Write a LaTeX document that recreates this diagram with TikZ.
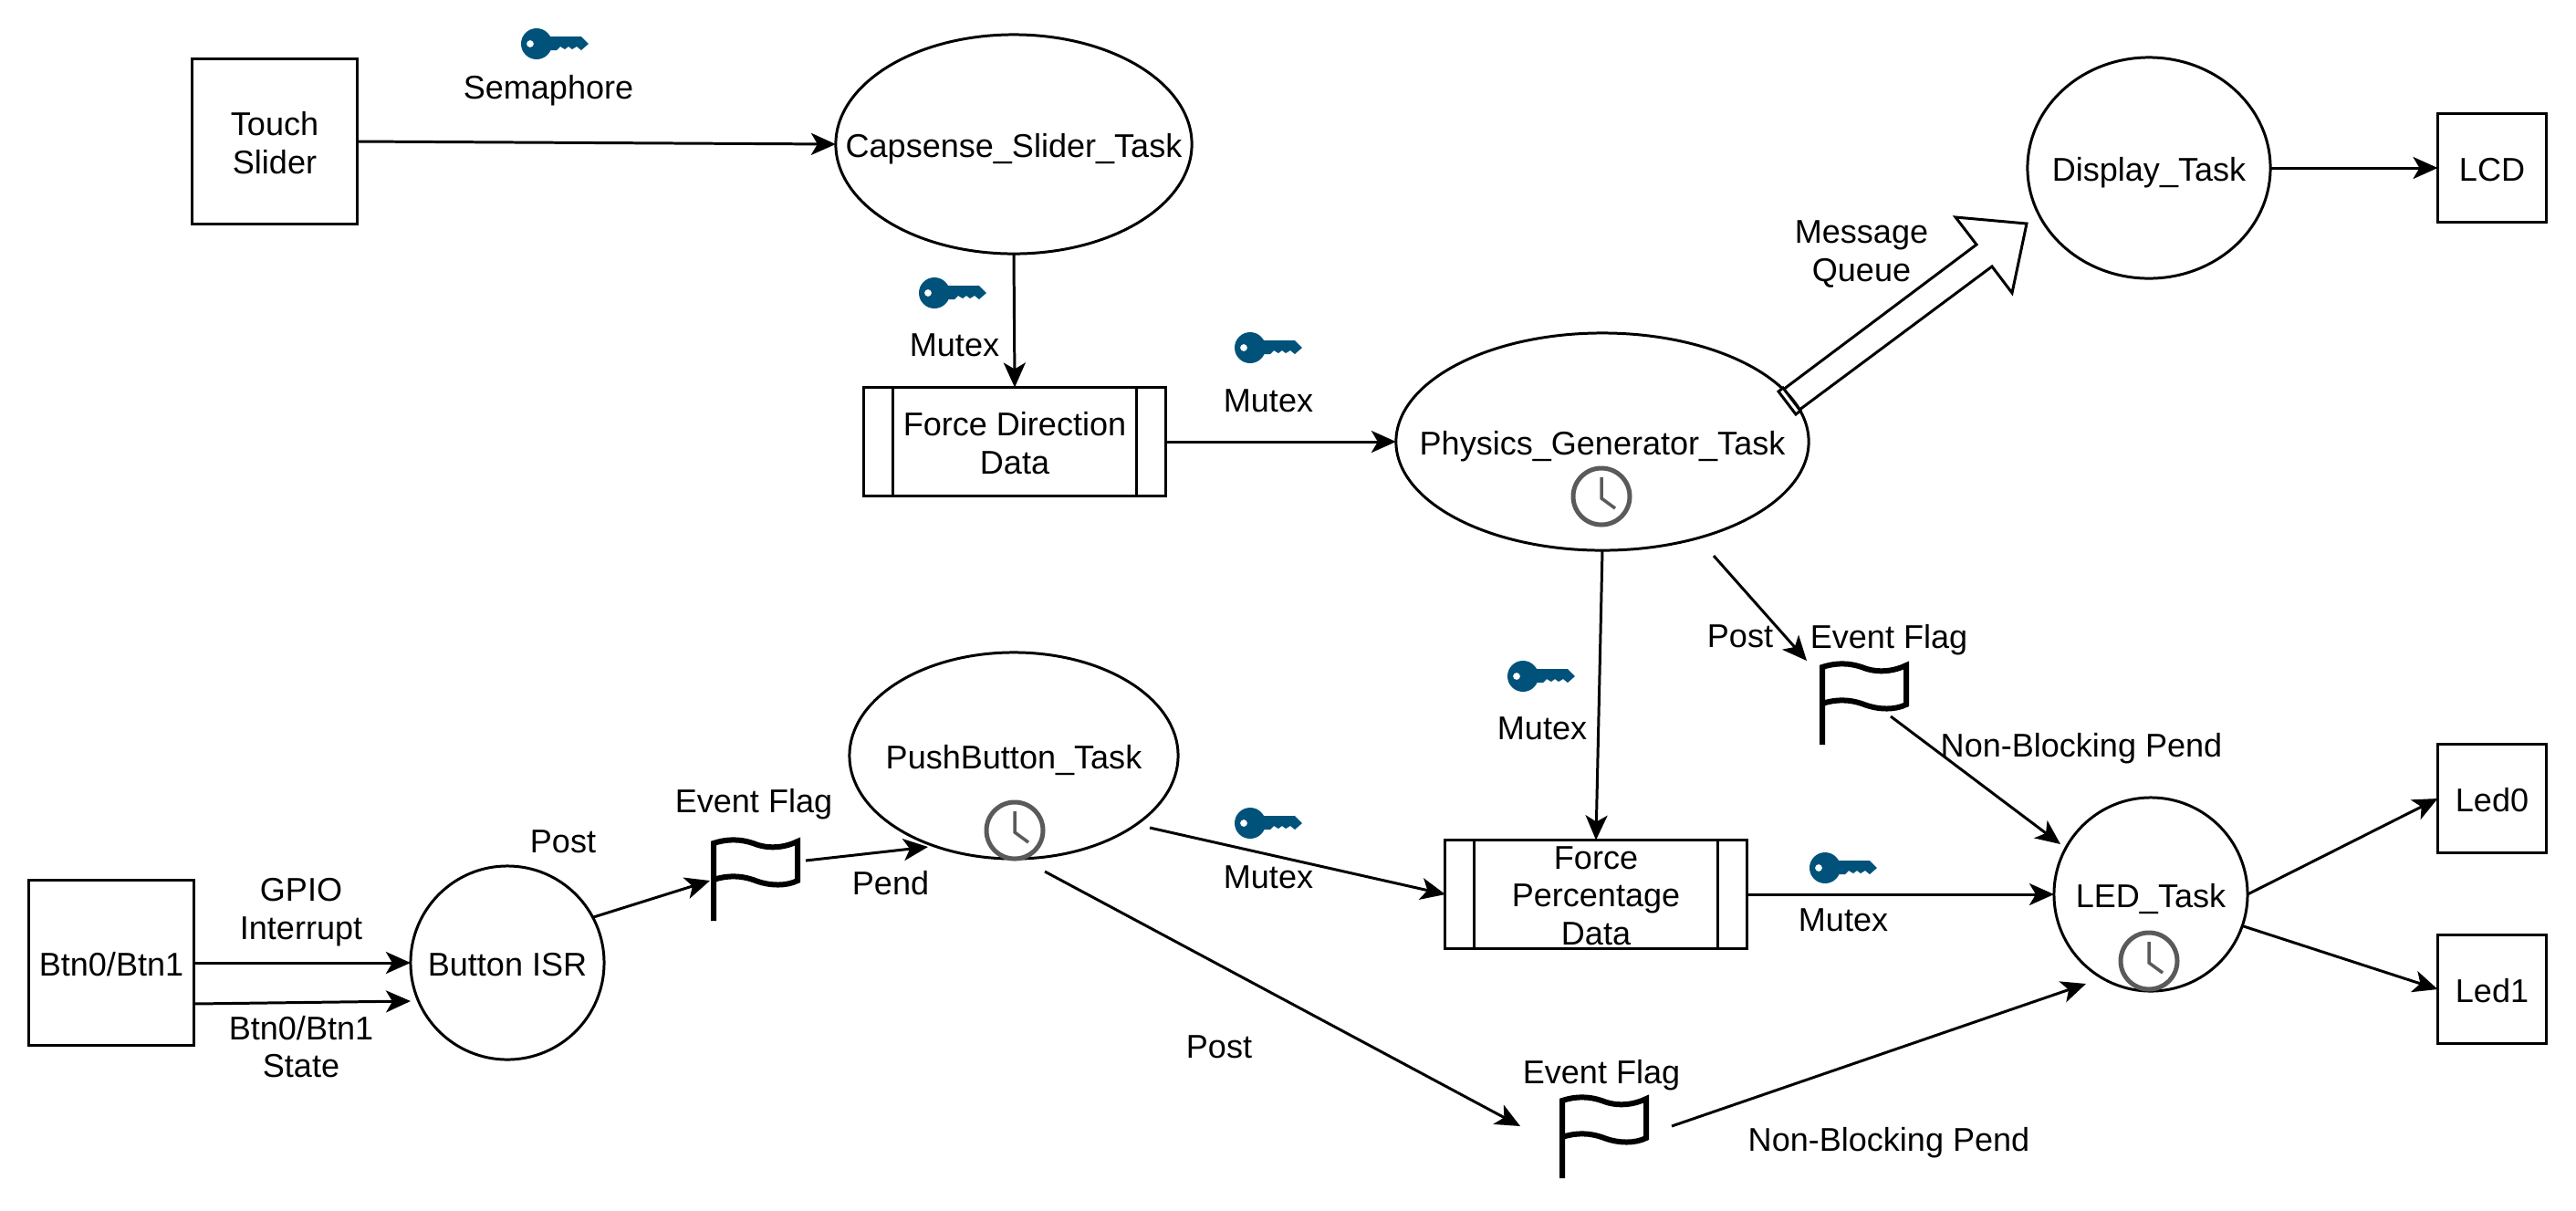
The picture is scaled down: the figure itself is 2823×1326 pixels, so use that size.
\documentclass[tikz,border=0pt]{standalone}
\usepackage{fontspec}
\setmainfont{Liberation Sans}
\usepackage{xcolor}
\definecolor{keyblue}{RGB}{0,82,122}
\definecolor{clockgray}{RGB}{90,90,90}
\usetikzlibrary{arrows.meta, shapes.geometric}

\begin{document}
\begin{tikzpicture}[x=0.01cm, y=-0.01cm,
		>={Stealth[length=0.27cm, width=0.24cm, inset=0.07cm]},
		font=\fontsize{10.25}{11.8}\selectfont, line width=0.85pt,
		lbl/.style={align=center, inner sep=0pt, text depth=0pt},
		txt/.style={label={[lbl, yshift=-0.015cm]center:#1}},
		box/.style={draw, rectangle, inner sep=0pt, outer sep=0pt},
		task/.style={draw, ellipse, inner sep=0pt, outer sep=0pt},
		datastore/.style={box, minimum width=3.3cm, minimum height=1.19cm},
		keyicon/.pic={
			\fill[keyblue, even odd rule] (0,0) circle (17) (-7,0) circle (4);
			\fill[keyblue] (12,-8) -- (49,-8) -- (57,0) -- (49,7) -- (44,3) -- (39,6) -- (35,3) -- (31,6) -- (26,3) -- (22,7) -- (12,7) -- cycle;
		},
		flagicon/.pic={
			\draw[line width=0.06cm] (0,87) -- (0,2) .. controls (15,-3) and (30,-3) .. (46,3) .. controls (62,9) and (80,6) .. (92,0) -- (92,43) .. controls (80,49) and (62,49) .. (46,43) .. controls (30,37) and (15,37) .. (0,42);
		},
		clockicon/.pic={
			\draw[clockgray, line width=0.05cm] (0,0) circle (31);
			\draw[clockgray, line width=0.035cm] (0,-21) -- (0,2) -- (15,13);
		}]
	\useasboundingbox (0,0) rectangle (2823,1326);
	% Kaesten
	\node[box, minimum size=1.8cm, txt={Touch\\Slider}] (touch) at (301,155) {};
	\node[box, minimum size=1.8cm, txt={Btn0/Btn1}] (btn) at (122,1055) {};
	\node[box, minimum size=1.19cm, txt={LCD}] (lcd) at (2731,184) {};
	\node[box, minimum size=1.19cm, txt={Led0}] (led0) at (2731,875) {};
	\node[box, minimum size=1.19cm, txt={Led1}] (led1) at (2731,1084) {};
	% Tasks
	\node[task, minimum width=3.9cm, minimum height=2.4cm, txt={Capsense\_Slider\_Task}] (capsense) at (1111,158) {};
	\node[task, minimum width=4.52cm, minimum height=2.38cm, txt={Physics\_Generator\_Task}] (physics) at (1756,484) {};
	\node[task, minimum width=2.66cm, minimum height=2.42cm, txt={Display\_Task}] (display) at (2355,184) {};
	\node[task, minimum width=3.6cm, minimum height=2.26cm, txt={PushButton\_Task}] (pushbutton) at (1111,828) {};
	\node[task, minimum width=2.12cm, minimum height=2.12cm, txt={Button ISR}] (isr) at (556,1055) {};
	\node[task, minimum width=2.12cm, minimum height=2.12cm, txt={LED\_Task}] (ledtask) at (2357,980) {};
	% Daten
	\node[datastore, txt={Force Direction\\Data}] (forcedir) at (1112,484) {};
	\node[datastore, txt={Force\\Percentage\\Data}] (forcepct) at (1749,980) {};
	\foreach \n in {forcedir,forcepct} {
		\draw ([xshift=0.32cm]\n.north west) -- ([xshift=0.32cm]\n.south west);
		\draw ([xshift=-0.32cm]\n.north east) -- ([xshift=-0.32cm]\n.south east);
	}
	% freie Pfeilenden
	\coordinate (physout) at (1878,609);
	\coordinate (flagphysin) at (1980,724);
	\coordinate (flagphysout) at (2072,785);
	\coordinate (ledin) at (2258,925);
	\coordinate (btnlow) at (212,1100);
	\coordinate (isrlow) at (450,1097);
	\coordinate (flagisrin) at (778,965);
	\coordinate (flagisrout) at (883,943);
	\coordinate (pushin) at (1017,928);
	\coordinate (pushout) at (1260,907);
	\coordinate (pushlow) at (1145,955);
	\coordinate (flagpushin) at (1666,1234);
	\coordinate (flagpushout) at (1832,1234);
	\coordinate (ledlow) at (2286,1078);
	% Pfeile
	\draw[->] (touch.east) -- (capsense.west);
	\draw[->] (capsense.south) -- (forcedir.north);
	\draw[->] (forcedir.east) -- (physics.west);
	\draw[->] (physics.south) -- (forcepct.north);
	\draw[->] (physout) -- (flagphysin);
	\draw[->] (flagphysout) -- (ledin);
	\draw[->] (display.east) -- (lcd.west);
	\draw[->] (btn.east) -- (isr.west);
	\draw[->] (btnlow) -- (isrlow);
	\draw[->] (isr.28) -- (flagisrin);
	\draw[->] (flagisrout) -- (pushin);
	\draw[->] (pushout) -- (forcepct.west);
	\draw[->] (pushlow) -- (flagpushin);
	\draw[->] (flagpushout) -- (ledlow);
	\draw[->] (forcepct.east) -- (ledtask.west);
	\draw[->] (ledtask.east) -- (led0.west);
	\draw[->] (ledtask.-19) -- (led1.west);
	% Message Queue Pfeil
	\draw (1954,427) -- (2166,268) -- (2143,238) -- (2221,245) -- (2205,321) -- (2183,292) -- (1972,449);
	\draw[fill=white] (1949,429) -- (1954,425) -- (1973,450) -- (1968,454) -- cycle;
	% Symbole
	\foreach \kx/\ky in {588/48,1024/321,1370/381,1669/741,1370/902,2000/951} \pic at (\kx,\ky) {keyicon};
	\foreach \fx/\fy in {782/922,1712/1204,1997/729} \pic at (\fx,\fy) {flagicon};
	\foreach \cx/\cy in {1755/544,1112/910,2355/1053} \pic at (\cx,\cy) {clockicon};
	% Beschriftung
	\node[lbl] (semlabel) at (601,95) {Semaphore};
	\node[lbl] (mutexa) at (1046,378) {Mutex};
	\node[lbl] (mutexb) at (1390,439) {Mutex};
	\node[lbl] (mutexc) at (1690,798) {Mutex};
	\node[lbl] (mutexd) at (1390,961) {Mutex};
	\node[lbl] (mutexe) at (2020,1008) {Mutex};
	\node[lbl] (queuelabel) at (2040,275) {Message\\Queue};
	\node[lbl] (posta) at (1907,697) {Post};
	\node[lbl] (postb) at (617,922) {Post};
	\node[lbl] (postc) at (1336,1147) {Post};
	\node[lbl] (flaga) at (2070,697) {Event Flag};
	\node[lbl] (flagb) at (826,877) {Event Flag};
	\node[lbl] (flagc) at (1755,1174) {Event Flag};
	\node[lbl] (penda) at (2281,816) {Non-Blocking Pend};
	\node[lbl] (pendb) at (2070,1248) {Non-Blocking Pend};
	\node[lbl] (pendc) at (976,967) {Pend};
	\node[lbl] (gpiolabel) at (330,996) {GPIO\\Interrupt};
	\node[lbl] (statelabel) at (330,1147) {Btn0/Btn1\\State};
\end{tikzpicture}
\end{document}
